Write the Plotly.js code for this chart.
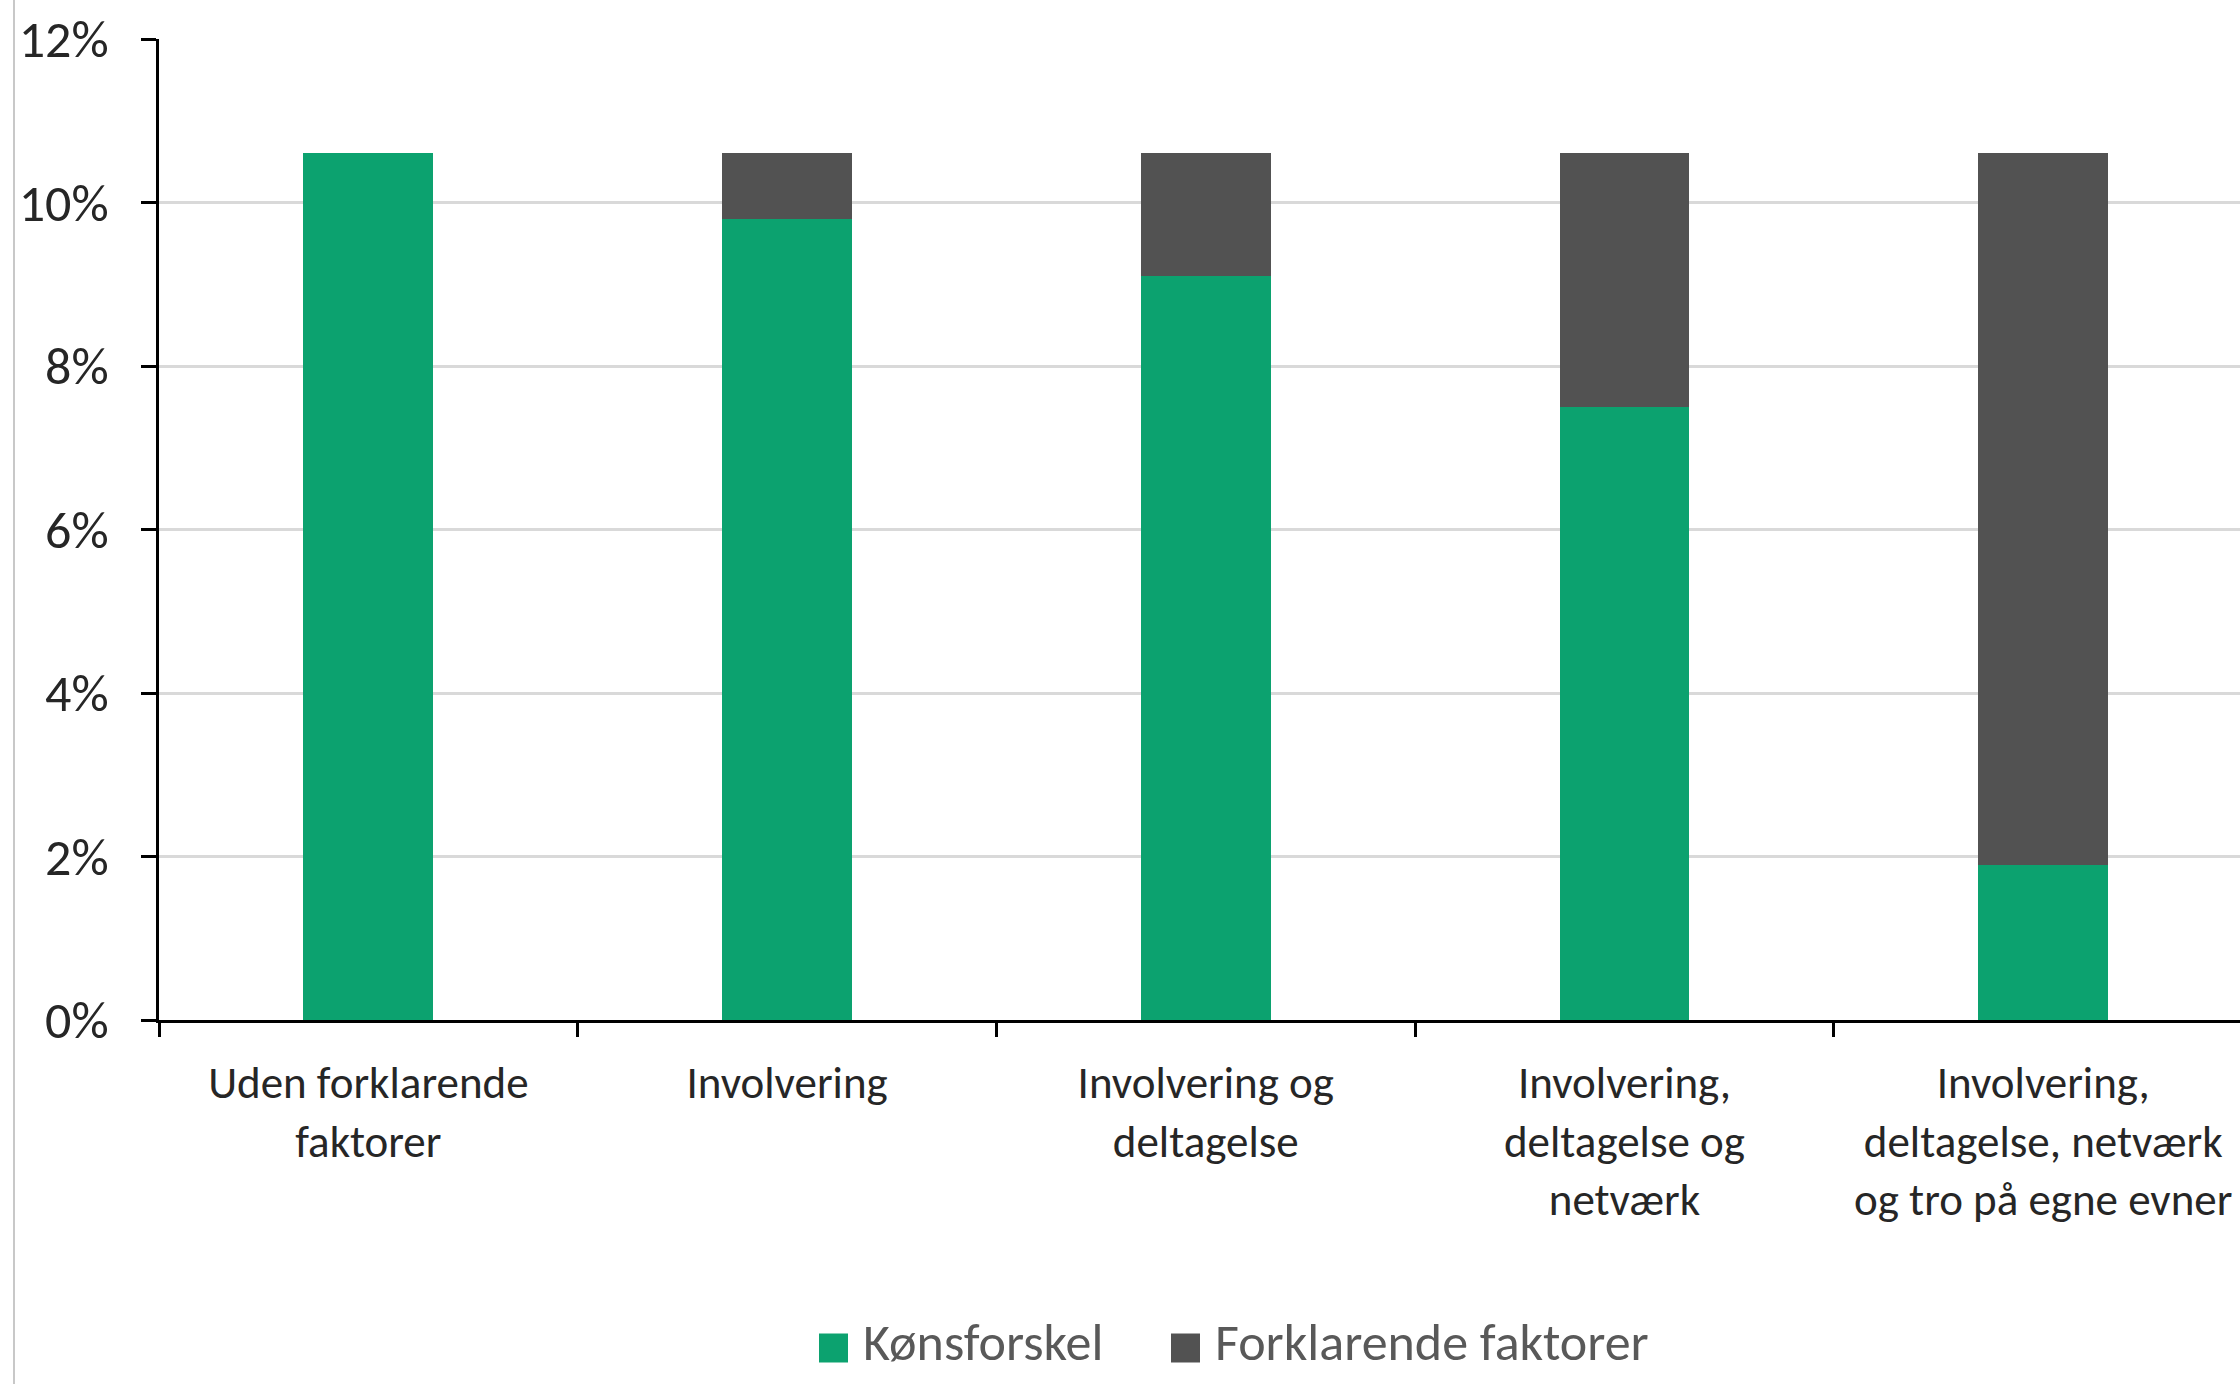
<!DOCTYPE html>
<html>
<head>
<meta charset="utf-8">
<script src="https://cdn.plot.ly/plotly-3.0.1.min.js"></script>
<style>
  html, body { margin: 0; padding: 0; background: #ffffff; }
  #chart { width: 2240px; height: 1384px; }
</style>
</head>
<body>
<div id="chart"></div>
<script>
const categories = [
  "Uden forklarende<br>faktorer",
  "Involvering",
  "Involvering og<br>deltagelse",
  "Involvering,<br>deltagelse og<br>netværk",
  "Involvering,<br>deltagelse, netværk<br>og tro på egne evner"
];
const seriesNames = ["Kønsforskel", "Forklarende faktorer"];
const seriesColors = ["#0ca26f", "#525252"];
const konsforskel = [10.6, 9.8, 9.1, 7.5, 1.9];
const forklarende = [0.0, 0.8, 1.5, 3.1, 8.7];
const yTickValues = [0, 2, 4, 6, 8, 10, 12];

const FONT = '"Liberation Sans Narrow", "Arial Narrow", Carlito, Calibri, Lato, sans-serif';

const traces = [
  {
    type: 'bar', name: seriesNames[0], x: categories, y: konsforskel,
    marker: { color: seriesColors[0] }, hoverinfo: 'skip', showlegend: false
  },
  {
    type: 'bar', name: seriesNames[1], x: categories, y: forklarende,
    marker: { color: seriesColors[1] }, hoverinfo: 'skip', showlegend: false
  }
];

// plot area geometry (pixels) for paper conversions of the legend / frame
const L = 159, R = 2240, T = 39, B = 1020;
const px = x => (x - L) / (R - L);
const py = y => (B - y) / (B - T);

// manual legend (larger swatches like the original)
const legendItems = [
  { swatchX: 819, textX: 861 },
  { swatchX: 1171, textX: 1213 }
];
const legendY = 1342;
const sw = 29;

const shapes = [
  {
    type: 'line', xref: 'paper', yref: 'paper',
    x0: px(14), x1: px(14), y0: py(0), y1: py(1384),
    line: { color: '#c8c8c8', width: 2 }
  }
];
const annotations = [];
legendItems.forEach((it, i) => {
  shapes.push({
    type: 'rect', xref: 'paper', yref: 'paper',
    x0: px(it.swatchX), x1: px(it.swatchX + sw),
    y0: py(legendY - sw / 2 + 6), y1: py(legendY + sw / 2 + 6),
    fillcolor: seriesColors[i], line: { width: 0 }
  });
  annotations.push({
    xref: 'paper', yref: 'paper', x: px(it.textX), y: py(legendY),
    xanchor: 'left', yanchor: 'middle', showarrow: false,
    text: seriesNames[i],
    font: { family: FONT, size: 52, color: '#595959' }
  });
});

const layout = {
  width: 2240, height: 1384,
  paper_bgcolor: '#ffffff', plot_bgcolor: '#ffffff',
  margin: { l: L, r: 2240 - R, t: T, b: 1384 - B, autoexpand: false },
  barmode: 'stack',
  bargap: 0.69,
  font: { family: FONT, size: 45, color: '#262626' },
  showlegend: false,
  xaxis: {
    type: 'category',
    range: [-0.5, 4.47],
    showline: true, linecolor: '#000000', linewidth: 3,
    ticks: 'outside', tickson: 'boundaries', ticklen: 14, tickwidth: 3, tickcolor: '#000000',
    tickfont: { family: FONT, size: 45, color: '#262626' },
    showgrid: false, zeroline: false, fixedrange: true,
    ticklabelstandoff: 21
  },
  yaxis: {
    range: [0, 12],
    tickvals: yTickValues,
    ticktext: yTickValues.map(v => v + '%'),
    showline: true, linecolor: '#000000', linewidth: 3,
    ticks: 'outside', ticklen: 15, tickwidth: 3, tickcolor: '#000000',
    tickfont: { family: FONT, size: 52, color: '#262626' },
    showgrid: true, gridcolor: '#d9d9d9', gridwidth: 3,
    zeroline: false, fixedrange: true,
    ticklabelstandoff: 22
  },
  shapes: shapes,
  annotations: annotations
};

Plotly.newPlot('chart', traces, layout, { displayModeBar: false, staticPlot: true });
</script>
</body>
</html>
